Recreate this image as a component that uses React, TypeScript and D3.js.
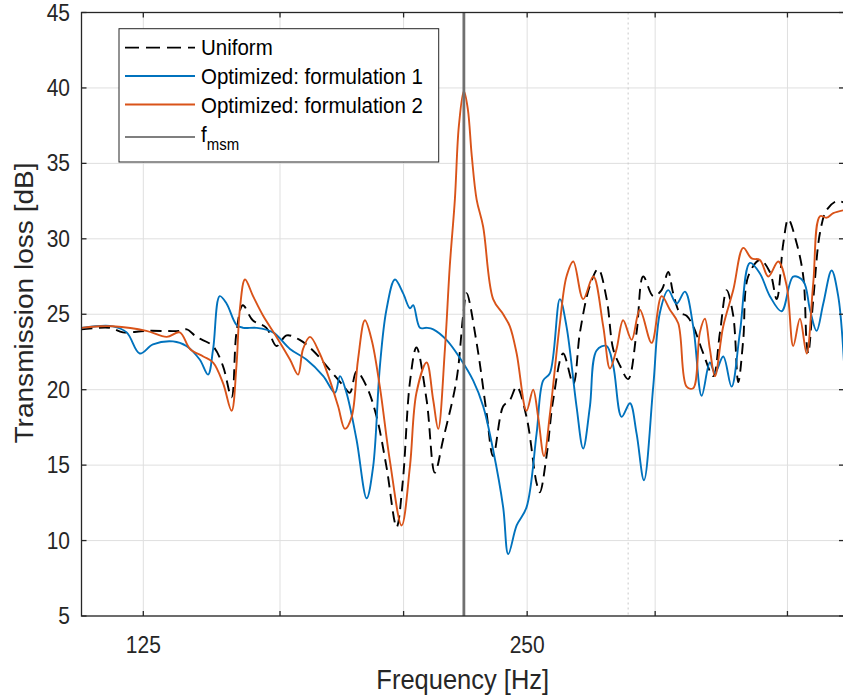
import React from 'react';
import * as d3 from 'd3';

// ---- data ----
const uniformFreq = [111.8,117.7,120.5,125.8,133.5,135.2,137.6,141.7,144.3,146.6,147.9,149.6,152.3,156.1,159.0,161.9,165.8,169.8,175.1,179.2,181.5,183.7,187.1,190.5,193.9,197.5,199.7,202.3,204.7,208.5,211.6,214.8,220.1,222.7,224.1,228.2,232.3,235.1,239.4,242.3,245.3,249.7,254.3,255.8,258.9,262.0,266.8,271.7,275.0,280.0,284.2,288.6,292.0,295.6,300.0,304.6,308.3,313.9,318.7,322.5,325.4,329.4,333.4,337.4,343.6,349.8,354.1,358.4,362.7,366.0,369.3,372.6,380.6,387.5,392.3,397.0,400.6,406.7,411.6,414.1,415.3,419.1,424.2,429.3,437.2,443];
const uniformTL = [24.0,24.1,23.8,23.9,23.9,24.0,23.5,22.9,21.6,19.5,23.8,25.6,24.6,24.1,22.9,23.6,23.3,22.6,21.3,20.3,19.8,21.2,20.2,18.2,14.9,10.9,13.9,20.5,22.8,19.3,14.5,16.7,20.7,24.9,26.4,23.1,18.5,15.6,18.9,19.3,20.2,18.2,13.8,13.2,15.6,19.3,22.4,20.4,23.8,26.9,28.0,26.0,22.7,21.6,20.7,23.8,27.5,26.2,26.6,27.8,26.4,25.1,24.9,24.2,22.4,20.9,23.8,26.6,24.9,20.5,23.3,27.5,28.6,27.8,26.0,29.7,31.3,29.7,27.5,23.1,22.4,26.0,30.4,31.9,32.5,32.4];

const opt1Freq = [111.8,118.3,121.3,124.2,127.2,131.9,135.1,138.4,140.5,141.8,143.5,145.3,147.9,149.7,153.4,158.0,162.9,167.8,173.0,176.7,178.3,180.4,183.7,187.1,189.3,191.6,193.9,196.9,199.8,202.3,203.5,206.0,208.5,211.0,216.1,221.4,226.8,230.9,235.1,239.4,241.6,245.3,249.7,254.3,257.3,260.5,265.2,268.4,273.3,276.6,280.0,283.4,288.5,292.0,296.5,301.0,304.6,308.7,313.9,317.7,322.5,327.4,332.4,337.4,342.6,347.7,350.9,356.2,361.6,367.1,373.8,380.6,387.5,395.8,404.2,411.6,416.6,421.6,426.7,433.2,438.4,443];
const opt1TL = [24.1,24.2,23.8,22.4,23.0,23.2,22.9,22.0,21.0,22.7,26.2,25.7,24.3,24.1,24.1,23.8,22.7,22.0,20.9,19.8,20.9,19.8,16.7,12.8,14.9,21.5,25.3,27.3,26.4,25.4,25.6,24.1,24.1,24.0,23.3,22.1,20.6,18.9,16.0,12.2,9.1,11.0,12.2,17.1,20.6,21.1,26.0,24.2,18.9,16.1,18.9,22.6,22.9,21.6,18.2,19.1,17.1,14.0,20.2,25.1,26.6,25.7,26.5,24.2,19.6,21.8,21.1,22.2,20.2,23.8,28.4,27.7,26.2,25.2,27.5,27.2,25.3,23.9,25.7,27.9,26.2,21.8];

const opt2Freq = [111.8,115.6,118.3,125.7,130.4,133.5,136.0,139.3,141.8,144.4,146.6,147.9,148.8,150.2,152.4,155.2,159.0,162.9,165.3,166.8,168.9,171.9,175.1,177.7,179.9,182.1,184.2,186.5,188.8,191.6,195.1,199.3,202.3,204.7,208.5,211.0,212.9,215.5,217.4,219.4,221.0,223.0,224.6,226.2,228.2,230.9,235.1,239.4,242.3,245.3,249.7,252.7,255.0,257.7,260.5,265.2,268.4,271.7,276.6,281.7,286.8,290.3,293.8,297.3,301.9,306.4,313.0,318.7,323.5,328.4,333.4,337.4,341.5,344.6,347.7,350.9,356.2,362.7,369.3,374.9,380.6,386.4,393.4,399.4,404.2,409.1,414.1,419.1,424.2,429.3,434.5,443];
const opt2TL = [24.1,24.2,24.2,23.9,23.5,23.8,22.7,22.2,21.8,20.4,18.6,21.6,25.3,27.3,26.2,24.9,23.5,22.0,21.0,22.7,23.5,22.4,20.6,18.9,17.4,18.2,22.0,24.6,23.3,20.2,15.3,11.0,14.9,19.8,21.8,19.3,17.4,22.7,28.2,32.6,37.5,39.8,38.6,35.5,32.6,30.8,26.0,25.0,24.2,22.4,18.6,20.0,18.2,15.6,18.4,24.4,27.5,28.5,26.0,27.5,24.2,21.4,22.7,24.6,23.3,25.3,23.1,26.2,25.3,24.4,20.2,20.1,23.8,24.7,22.7,20.9,24.2,26.6,29.4,28.7,28.6,27.5,28.5,26.9,22.9,24.7,22.4,27.1,31.5,31.4,31.7,31.9];

const xTicks = [125, 160, 200, 250, 315, 400];
const xTickLabels = ['125', '', '', '250', '', ''];
const yTicks = [5, 10, 15, 20, 25, 30, 35, 40, 45];
const fMsm = 223;
const fMarker = 300;
const xDomain = [111.8, 443];
const yDomain = [5, 45];
const legendLabels = ['Uniform', 'Optimized: formulation 1', 'Optimized: formulation 2'];

const FONT = '"Liberation Sans", Arial, Helvetica, sans-serif';
const AX = '#262626';
const SY = 1.1; // slight vertical stretch of the text, as in the reference

function pairs(f: number[], v: number[]) {
  const n = Math.min(f.length, v.length);
  const out: [number, number][] = [];
  for (let i = 0; i < n; i++) out.push([f[i], v[i]]);
  return out;
}

function T({ x, y, size, anchor, children, fill }: any) {
  return (
    <text transform={`translate(${x},${y}) scale(1,${SY})`} textAnchor={anchor || 'start'}
      fontSize={size} fill={fill || AX}>{children}</text>
  );
}

export default function App() {
  const W = 843, H = 696;
  const L = 81.5, R = 844, TOP = 12.5, B = 616;
  const x = d3.scaleLog().domain(xDomain).range([L, R]);
  const y = d3.scaleLinear().domain(yDomain).range([B, TOP]);
  const line = d3.line<[number, number]>()
    .x(d => x(d[0]))
    .y(d => y(d[1]))
    .curve(d3.curveCatmullRom.alpha(0.5));

  const series = [
    { d: pairs(uniformFreq, uniformTL), color: '#000000', dash: '11,6.5' },
    { d: pairs(opt1Freq, opt1TL), color: '#0072BD', dash: undefined },
    { d: pairs(opt2Freq, opt2TL), color: '#D95319', dash: undefined },
  ];

  const tick = 5;
  const legX = 119, legY = 28.7, legW = 319.7, legH = 133.3;
  const rowY = [47.7, 76, 104.5, 137];
  const rowBase = [55, 84, 112.7, 141.5];

  return (
    <svg width={W} height={H} style={{ position: 'absolute', left: 0, top: 0, background: '#fff' }}
      fontFamily={FONT}>
      <defs>
        <clipPath id="plotclip">
          <rect x={L} y={TOP} width={R - L} height={B - TOP} />
        </clipPath>
      </defs>
      <rect x={0} y={0} width={W} height={H} fill="#fff" />
      {xTicks.map((t, i) => (
        <line key={'gx' + i} x1={x(t)} x2={x(t)} y1={TOP} y2={B} stroke="#dfdfdf" strokeWidth={1} />
      ))}
      {yTicks.map((t, i) => (
        <line key={'gy' + i} x1={L} x2={R} y1={y(t)} y2={y(t)} stroke="#dfdfdf" strokeWidth={1} />
      ))}
      <line x1={x(fMarker)} x2={x(fMarker)} y1={TOP} y2={B} stroke="#c8c8c8" strokeWidth={1} strokeDasharray="2,3" />
      <g clipPath="url(#plotclip)">
        {series.map((s, i) => (
          <path key={'s' + i} d={line(s.d) || ''} fill="none" stroke={s.color}
            strokeWidth={1.9} strokeDasharray={s.dash} strokeLinejoin="round" />
        ))}
      </g>
      <line x1={x(fMsm)} x2={x(fMsm)} y1={TOP} y2={B} stroke="#707070" strokeWidth={2.8} />
      <rect x={L} y={TOP} width={R - L} height={B - TOP} fill="none" stroke={AX} strokeWidth={1.3} />
      {xTicks.map((t, i) => (
        <g key={'tx' + i}>
          <line x1={x(t)} x2={x(t)} y1={B} y2={B - tick} stroke={AX} strokeWidth={1.3} />
          <line x1={x(t)} x2={x(t)} y1={TOP} y2={TOP + tick} stroke={AX} strokeWidth={1.3} />
          {xTickLabels[i] && (
            <T x={x(t)} y={653} size={21} anchor="middle">{xTickLabels[i]}</T>
          )}
        </g>
      ))}
      {yTicks.map((t, i) => (
        <g key={'ty' + i}>
          <line x1={L} x2={L + tick} y1={y(t)} y2={y(t)} stroke={AX} strokeWidth={1.3} />
          <line x1={R} x2={R - tick} y1={y(t)} y2={y(t)} stroke={AX} strokeWidth={1.3} />
          <T x={70} y={y(t) + 8} size={21} anchor="end">{t}</T>
        </g>
      ))}
      <T x={(L + R) / 2} y={689} size={25.5} anchor="middle">Frequency [Hz]</T>
      <text transform={`translate(33,303) scale(1,${SY}) rotate(-90)`} textAnchor="middle" fontSize={25.5} fill={AX}>Transmission loss [dB]</text>
      <rect x={legX} y={legY} width={legW} height={legH} fill="#fff" stroke={AX} strokeWidth={1} />
      {series.map((s, i) => (
        <g key={'lg' + i}>
          <line x1={125} x2={195} y1={rowY[i]} y2={rowY[i]} stroke={s.color} strokeWidth={1.8}
            strokeDasharray={s.dash ? '14,7' : undefined} />
          <T x={201} y={rowBase[i]} size={20.5} fill="#000">{legendLabels[i]}</T>
        </g>
      ))}
      <line x1={125} x2={195} y1={rowY[3]} y2={rowY[3]} stroke="#000" strokeWidth={1.2} />
      <T x={201} y={rowBase[3]} size={20.5} fill="#000">f<tspan dy={8} fontSize={15}>msm</tspan></T>
    </svg>
  );
}
